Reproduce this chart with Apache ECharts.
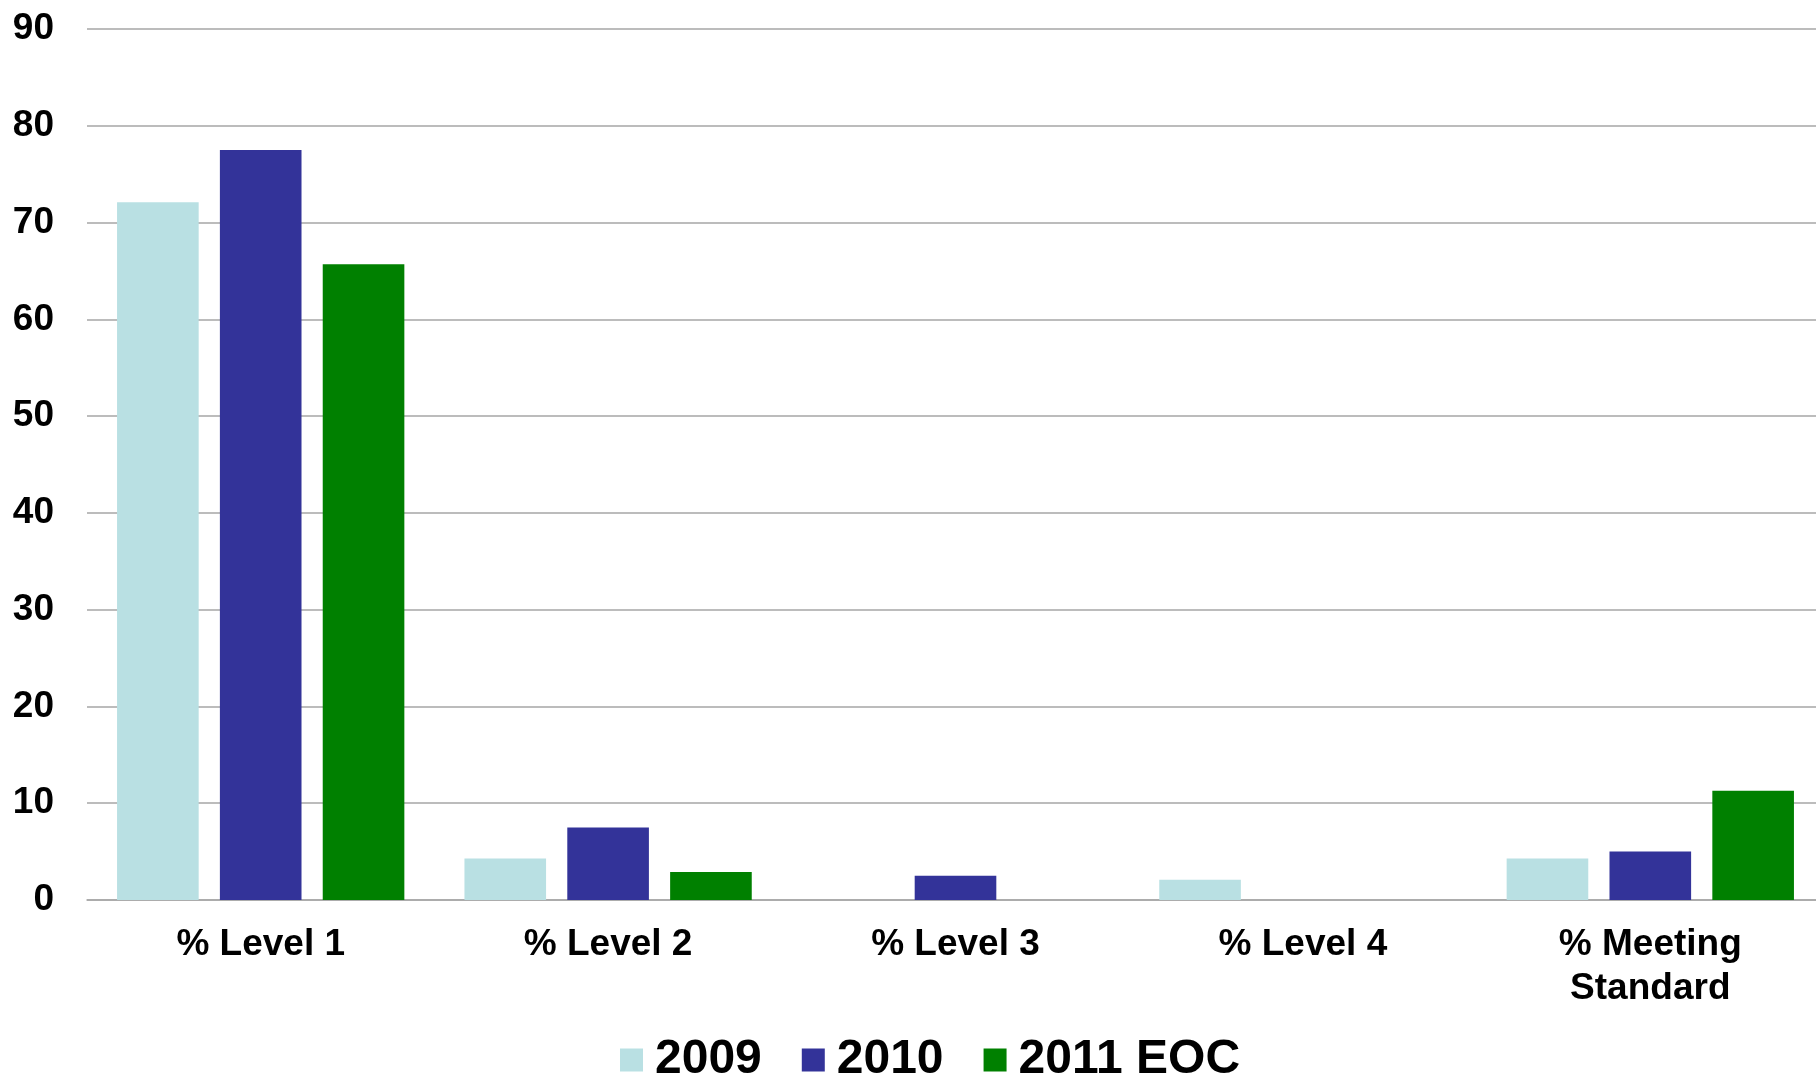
<!DOCTYPE html>
<html>
<head>
<meta charset="utf-8">
<script src="https://cdn.jsdelivr.net/npm/echarts@6/dist/echarts.min.js"></script>
<style>
  html, body { margin: 0; padding: 0; background: #ffffff; }
  #chart { width: 1816px; height: 1078px; }
</style>
</head>
<body>
<div id="chart"></div>
<script>
// Categories along the x axis
const categories = ['% Level 1', '% Level 2', '% Level 3', '% Level 4', '% Meeting\nStandard'];

// Series names and percentages per category
const seriesNames = ['2009', '2010', '2011 EOC'];
const values2009 = [72.1, 4.3, 0, 2.1, 4.3];
const values2010 = [77.5, 7.5, 2.5, 0, 5.0];
const values2011 = [65.7, 2.9, 0, 0, 11.3];

// Y axis range
const yMin = 0;
const yMax = 90;
const yStep = 10;

const colors = ['#b9e0e3', '#333399', '#008000'];
const fontFamily = '"Liberation Sans", Arial, Helvetica, sans-serif';

const chart = echarts.init(document.getElementById('chart'), null, { renderer: 'canvas' });

const seriesData = [values2009, values2010, values2011];

chart.setOption({
  animation: false,
  backgroundColor: '#ffffff',
  color: colors,
  // plot area runs slightly past the right edge of the canvas
  grid: { left: 87, width: 1737, top: 29, bottom: 178, containLabel: false, outerBoundsMode: 'none' },
  legend: {
    data: seriesNames,
    left: 620,
    top: 1036,
    padding: 0,
    itemWidth: 23,
    itemHeight: 23,
    itemGap: 40,
    icon: 'rect',
    textStyle: { fontFamily, fontWeight: 'bold', fontSize: 48, color: '#000000', padding: [0, 0, 0, 7] }
  },
  xAxis: {
    type: 'category',
    data: categories,
    axisLine: { show: true, lineStyle: { color: '#a6a6a6', width: 1.5 } },
    axisTick: { show: false },
    axisLabel: {
      interval: 0,
      margin: 23,
      fontFamily,
      fontWeight: 'bold',
      fontSize: 37,
      lineHeight: 44,
      color: '#000000'
    }
  },
  yAxis: {
    type: 'value',
    min: yMin,
    max: yMax,
    interval: yStep,
    axisLine: { show: false },
    axisTick: { show: false },
    splitLine: { show: true, lineStyle: { color: '#a6a6a6', width: 1.5 } },
    axisLabel: {
      margin: 33,
      fontFamily,
      fontWeight: 'bold',
      fontSize: 37,
      color: '#000000'
    }
  },
  series: seriesNames.map((name, i) => ({
    name,
    type: 'bar',
    data: seriesData[i],
    barGap: '26%',
    barCategoryGap: '17.3%',
    itemStyle: { color: colors[i] }
  }))
});
</script>
</body>
</html>
